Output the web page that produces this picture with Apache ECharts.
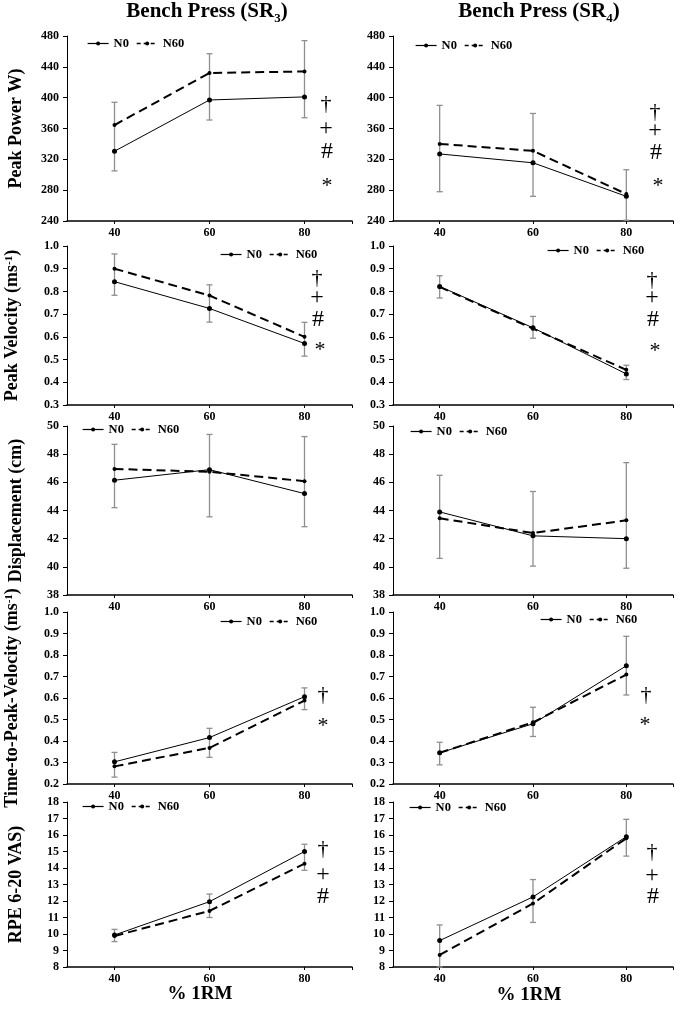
<!DOCTYPE html>
<html>
<head>
<meta charset="utf-8">
<script src="https://cdn.jsdelivr.net/npm/echarts@6/dist/echarts.min.js"></script>
<style>
  html, body { margin: 0; padding: 0; background: #fff; }
  #chart { width: 680px; height: 1009px; }
</style>
</head>
<body>
<div id="chart"></div>
<script>
// % 1RM
var pct = [40, 60, 80];

// Bench Press SR3
var sr3PowerN0 = [330.5, 397, 401];
var sr3PowerN60 = [364.5, 432, 434];
var sr3PowerHi = [394, 457, 474];
var sr3PowerLo = [305, 371, 374];

var sr3VelN0 = [0.843, 0.725, 0.571];
var sr3VelN60 = [0.900, 0.782, 0.600];
var sr3VelHi = [0.965, 0.829, 0.664];
var sr3VelLo = [0.783, 0.665, 0.515];

var sr3DispN0 = [46.15, 46.9, 45.2];
var sr3DispN60 = [46.95, 46.75, 46.08];
var sr3DispHi = [48.7, 49.4, 49.25];
var sr3DispLo = [44.2, 43.55, 42.85];

var sr3TtpvN0 = [0.303, 0.416, 0.606];
var sr3TtpvN60 = [0.282, 0.368, 0.588];
var sr3TtpvHi = [0.347, 0.459, 0.647];
var sr3TtpvLo = [0.232, 0.324, 0.546];

var sr3RpeN0 = [9.94, 11.96, 15.0];
var sr3RpeN60 = [9.88, 11.4, 14.26];
var sr3RpeHi = [10.28, 12.42, 15.44];
var sr3RpeLo = [9.54, 11.0, 13.86];

// Bench Press SR4
var sr4PowerN0 = [327, 315.5, 272];
var sr4PowerN60 = [340, 331, 275];
var sr4PowerHi = [390, 379.5, 306.5];
var sr4PowerLo = [278, 272, 241];

var sr4VelN0 = [0.822, 0.640, 0.437];
var sr4VelN60 = [0.820, 0.636, 0.455];
var sr4VelHi = [0.869, 0.690, 0.475];
var sr4VelLo = [0.771, 0.594, 0.412];

var sr4DispN0 = [43.9, 42.2, 42.0];
var sr4DispN60 = [43.45, 42.4, 43.3];
var sr4DispHi = [46.5, 45.35, 47.4];
var sr4DispLo = [40.6, 40.05, 39.9];

var sr4TtpvN0 = [0.345, 0.480, 0.750];
var sr4TtpvN60 = [0.345, 0.487, 0.709];
var sr4TtpvHi = [0.394, 0.557, 0.887];
var sr4TtpvLo = [0.289, 0.421, 0.614];

var sr4RpeN0 = [9.6, 12.25, 15.9];
var sr4RpeN60 = [8.73, 11.85, 15.8];
var sr4RpeHi = [10.55, 13.3, 16.95];
var sr4RpeLo = [8.0, 10.7, 14.72];

// y scales per row (tick labels)
var yMin = [240, 0.3, 38, 0.2, 8];
var yMax = [480, 1.0, 50, 1.0, 18];
var yStep = [40, 0.1, 2, 0.1, 1];
var yDecimals = [0, 1, 0, 1, 0];

// significance marks per row
var marksPower = ['†', '+', '#', '*'];
var marksVel = ['†', '+', '#', '*'];
var marksTtpv = ['†', '*'];
var marksRpe = ['†', '+', '#'];

var serif = 'Liberation Serif';

var panelData = [
  [[sr3PowerN0, sr3PowerN60, sr3PowerHi, sr3PowerLo], [sr4PowerN0, sr4PowerN60, sr4PowerHi, sr4PowerLo]],
  [[sr3VelN0, sr3VelN60, sr3VelHi, sr3VelLo], [sr4VelN0, sr4VelN60, sr4VelHi, sr4VelLo]],
  [[sr3DispN0, sr3DispN60, sr3DispHi, sr3DispLo], [sr4DispN0, sr4DispN60, sr4DispHi, sr4DispLo]],
  [[sr3TtpvN0, sr3TtpvN60, sr3TtpvHi, sr3TtpvLo], [sr4TtpvN0, sr4TtpvN60, sr4TtpvHi, sr4TtpvLo]],
  [[sr3RpeN0, sr3RpeN60, sr3RpeHi, sr3RpeLo], [sr4RpeN0, sr4RpeN60, sr4RpeHi, sr4RpeLo]]
];

var yNames = [
  'Peak Power W)',
  '{a|Peak Velocity (ms}{s|-1}{a|)}',
  'Displacement (cm)',
  '{a|Time-to-Peak-Velocity (ms}{s|-1}{a|)}',
  'RPE 6-20 VAS)'
];

// layout
var colLeft = [67, 393];
var colWidth = [285, 280];
var rowTop = [36, 246, 426, 612, 802];
var rowBottom = [221, 405, 595, 784, 967];
var legendPos = [
  [[87, 37], [415, 39]],
  [[220, 248], [547, 244]],
  [[82, 423], [410, 425]],
  [[220, 615], [540, 613]],
  [[82, 800], [409, 801]]
];
var markPos = [
  [[[326, 104], [326, 129], [327, 152], [327, 186]], [[655, 112], [655, 131], [656, 153], [658, 186]]],
  [[[317, 278], [317, 298], [318, 320], [320, 350]], [[652, 280], [652, 298], [653, 320], [655, 351]]],
  [[], []],
  [[[323, 695], [323, 726]], [[646, 695], [645, 725]]],
  [[[323, 849], [323, 875], [323, 897]], [[652, 852], [652, 876], [653, 897]]]
];
var marksByRow = [marksPower, marksVel, [], marksTtpv, marksRpe];

var grids = [], xAxes = [], yAxes = [], legends = [], series = [], graphics = [];

function errRender(params, api) {
  var x = api.value(0);
  var pLo = api.coord([x, api.value(1)]);
  var pHi = api.coord([x, api.value(2)]);
  var w = 3;
  var st = { stroke: '#8f8f8f', lineWidth: 1.3 };
  return {
    type: 'group',
    children: [
      { type: 'line', shape: { x1: pLo[0], y1: pLo[1], x2: pHi[0], y2: pHi[1] }, style: st },
      { type: 'line', shape: { x1: pHi[0] - w, y1: pHi[1], x2: pHi[0] + w, y2: pHi[1] }, style: st },
      { type: 'line', shape: { x1: pLo[0] - w, y1: pLo[1], x2: pLo[0] + w, y2: pLo[1] }, style: st }
    ]
  };
}

var idx = 0;
for (var r = 0; r < 5; r++) {
  for (var c = 0; c < 2; c++) {
    var d = panelData[r][c];
    grids.push({ left: colLeft[c], width: colWidth[c], top: rowTop[r], height: rowBottom[r] - rowTop[r] });
    xAxes.push({
      type: 'value', gridIndex: idx, min: 30, max: 90, interval: 10,
      axisLine: { lineStyle: { color: '#000', width: 1.5 } },
      axisTick: { show: true, customValues: [40, 60, 80, 90], length: 3, lineStyle: { color: '#000' } },
      axisLabel: { customValues: pct, margin: 6, color: '#000', fontFamily: serif, fontWeight: 'bold', fontSize: 12 },
      splitLine: { show: false }
    });
    (function (row) {
      yAxes.push({
        type: 'value', gridIndex: idx, min: yMin[row], max: yMax[row], interval: yStep[row],
        name: c === 0 ? yNames[row] : '',
        nameLocation: 'middle', nameGap: 42,
        nameTextStyle: {
          color: '#000', fontFamily: serif, fontWeight: 'bold', fontSize: 18,
          rich: {
            a: { fontFamily: serif, fontWeight: 'bold', fontSize: 18, lineHeight: 22, verticalAlign: 'top', color: '#000' },
            s: { fontFamily: serif, fontWeight: 'bold', fontSize: 11, lineHeight: 11, verticalAlign: 'top', padding: [1, 0, 0, 0], color: '#000' }
          }
        },
        axisLine: { show: true, lineStyle: { color: '#000', width: 1 } },
        axisTick: { show: true, length: 4, lineStyle: { color: '#000' } },
        axisLabel: {
          margin: 8, color: '#000', fontFamily: serif, fontWeight: 'bold', fontSize: 12,
          formatter: function (v) { return v.toFixed(yDecimals[row]); }
        },
        splitLine: { show: false }
      });
    })(r);
    legends.push({
      data: [
        { name: 'N0', lineStyle: { type: 'solid', width: 1.2 } },
        { name: 'N60', lineStyle: { type: [4, 3], width: 1.6 } }
      ],
      left: legendPos[r][c][0], top: legendPos[r][c][1],
      itemWidth: 21, itemHeight: 5, itemGap: 7, padding: 0,
      textStyle: { color: '#000', fontFamily: serif, fontWeight: 'bold', fontSize: 12.5 },
      selectedMode: false
    });
    var errData = [];
    for (var i = 0; i < pct.length; i++) errData.push([pct[i], d[3][i], d[2][i]]);
    series.push({
      type: 'custom', xAxisIndex: idx, yAxisIndex: idx, z: 1,
      renderItem: errRender, data: errData, encode: { x: 0, y: [1, 2] }, silent: true
    });
    series.push({
      name: 'N0', type: 'line', xAxisIndex: idx, yAxisIndex: idx, z: 3,
      data: pct.map(function (p, k) { return [p, d[0][k]]; }),
      symbol: 'circle', symbolSize: 5,
      lineStyle: { color: '#000', width: 1 }, itemStyle: { color: '#000' }
    });
    series.push({
      name: 'N60', type: 'line', xAxisIndex: idx, yAxisIndex: idx, z: 3,
      data: pct.map(function (p, k) { return [p, d[1][k]]; }),
      symbol: 'circle', symbolSize: 4,
      lineStyle: { color: '#000', width: 2, type: [9, 5] }, itemStyle: { color: '#000' }
    });
    var mk = marksByRow[r];
    for (var m = 0; m < mk.length; m++) {
      graphics.push({
        type: 'text', x: markPos[r][c][m][0], y: markPos[r][c][m][1], z: 10,
        style: {
          text: mk[m], fill: '#000', font: (mk[m] === '+' || mk[m] === '#' ? '24px ' : '22px ') + serif,
          textAlign: 'center', textVerticalAlign: 'middle'
        }
      });
    }
    idx++;
  }
}

var titleRich = {
  t: { fontFamily: serif, fontWeight: 'bold', fontSize: 21, lineHeight: 24, verticalAlign: 'top', fill: '#000' },
  s: { fontFamily: serif, fontWeight: 'bold', fontSize: 13, lineHeight: 13, verticalAlign: 'top', padding: [11, 0, 0, 0], fill: '#000' }
};
graphics.push({
  type: 'text', x: 207, y: 13,
  style: { text: '{t|Bench Press (SR}{s|3}{t|)}', rich: titleRich, textAlign: 'center', textVerticalAlign: 'middle' }
});
graphics.push({
  type: 'text', x: 539, y: 13,
  style: { text: '{t|Bench Press (SR}{s|4}{t|)}', rich: titleRich, textAlign: 'center', textVerticalAlign: 'middle' }
});
graphics.push({
  type: 'text', x: 200, y: 994,
  style: { text: '% 1RM', font: 'bold 19px ' + serif, fill: '#000', textAlign: 'center', textVerticalAlign: 'middle' }
});
graphics.push({
  type: 'text', x: 529, y: 995,
  style: { text: '% 1RM', font: 'bold 19px ' + serif, fill: '#000', textAlign: 'center', textVerticalAlign: 'middle' }
});

var chart = echarts.init(document.getElementById('chart'), null, { renderer: 'canvas' });
chart.setOption({
  animation: false,
  backgroundColor: '#fff',
  grid: grids,
  xAxis: xAxes,
  yAxis: yAxes,
  legend: legends,
  series: series,
  graphic: graphics
});
</script>
</body>
</html>
